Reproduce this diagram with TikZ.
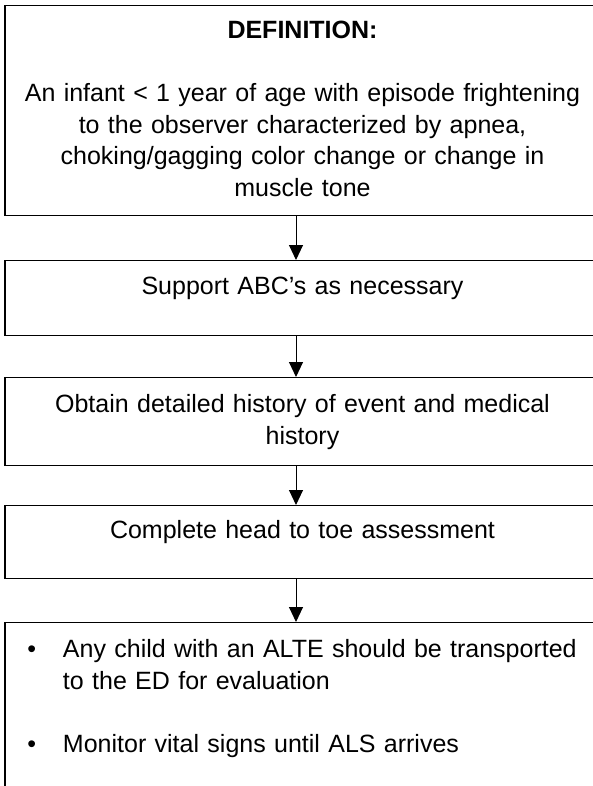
\documentclass[tikz,border=0pt]{standalone}
\usepackage{fontspec}
\setmainfont{Liberation Sans}
\usetikzlibrary{arrows.meta}

\begin{document}
\begin{tikzpicture}[
  x=1pt, y=-1pt,
  stepbox/.style={rectangle, draw, line width=1.3pt, inner sep=0pt, minimum width=595pt, text width=585pt, align=center, anchor=north, font=\fontsize{25}{31.5}\selectfont},
  listbox/.style={stepbox, align=left, text width=595pt},
  flowarr/.style={-{Triangle[length=15pt, width=14pt]}, line width=1pt}
]
\useasboundingbox (0,0) rectangle (593,786);
\clip (0,0) rectangle (593,786);

\node[stepbox, text height=33pt, text depth=177pt] (def) at (302.5,5) {\textbf{DEFINITION:}\\[31.5pt]
  An infant < 1 year of age with episode frightening\\
  to the observer characterized by apnea,\\
  choking/gagging color change or change in\\
  muscle tone};

\node[stepbox, text height=34pt, text depth=41pt] (abc) at (302.5,260) {Support ABC’s as necessary};

\node[stepbox, text height=35pt, text depth=53pt] (hist) at (302.5,377) {Obtain detailed history of event and medical\\
  history};

\node[stepbox, text height=33pt, text depth=40pt] (exam) at (302.5,505) {Complete head to toe assessment};

\node[listbox, text height=35pt, text depth=200pt] (plan) at (302.5,622) {%
  \hspace*{22.5pt}\makebox[35.5pt][l]{\textbullet}Any child with an ALTE should be transported\\
  \hspace*{58pt}to the ED for evaluation\\[31.5pt]
  \hspace*{22.5pt}\makebox[35.5pt][l]{\textbullet}Monitor vital signs until ALS arrives};

\draw[flowarr] ([xshift=-6.5pt]def.south) -- ([xshift=-6.5pt]abc.north);
\draw[flowarr] ([xshift=-6.5pt]abc.south) -- ([xshift=-6.5pt]hist.north);
\draw[flowarr] ([xshift=-6.5pt]hist.south) -- ([xshift=-6.5pt]exam.north);
\draw[flowarr] ([xshift=-6.5pt]exam.south) -- ([xshift=-6.5pt]plan.north);

\end{tikzpicture}
\end{document}
